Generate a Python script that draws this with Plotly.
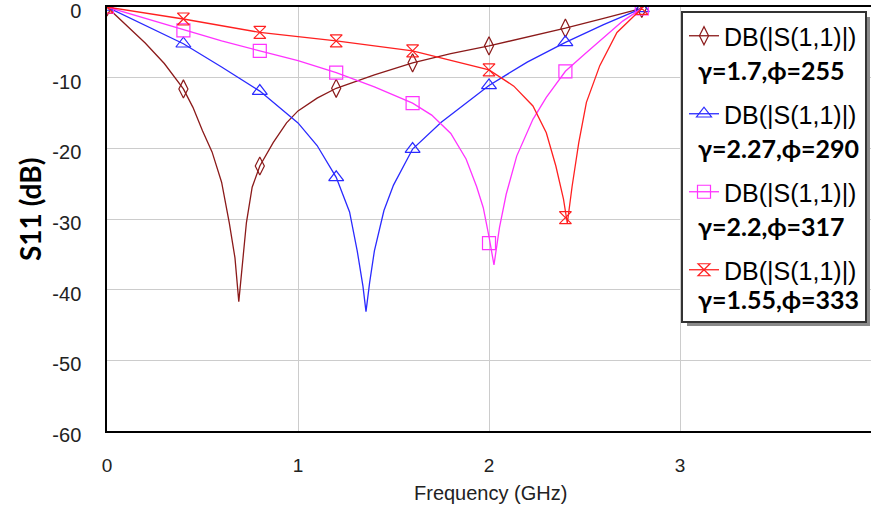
import plotly.graph_objects as go

# ---- data (frequency in GHz, S11 in dB) ----
marker_freq = [0, 0.4, 0.8, 1.2, 1.6, 2.0, 2.4, 2.8]

f_a = [0, 0.1, 0.2, 0.3, 0.4, 0.45, 0.5, 0.55, 0.6, 0.64, 0.67, 0.69, 0.71, 0.73,
       0.76, 0.8, 0.87, 0.94, 1.0, 1.1, 1.2, 1.4, 1.6, 1.8, 2.0, 2.2, 2.4, 2.6, 2.8]
s_a = [0, -2.5, -5.1, -8.0, -11.6, -14.2, -17.5, -20.5, -24.8, -30.5, -35.5, -41.7, -36.0, -30.5,
       -25.5, -22.5, -19.2, -16.4, -14.7, -12.9, -11.5, -9.6, -7.9, -6.6, -5.5, -4.3, -3.0, -1.6, -0.2]
m_a = [0, -11.6, -22.5, -11.5, -7.9, -5.5, -3.0, -0.2]

f_b = [0, 0.2, 0.4, 0.6, 0.8, 1.0, 1.1, 1.2, 1.27, 1.31, 1.34, 1.356, 1.375, 1.4,
       1.45, 1.5, 1.6, 1.75, 1.9, 2.0, 2.2, 2.4, 2.6, 2.8]
s_b = [0, -2.6, -5.2, -8.5, -11.9, -16.4, -19.6, -24.1, -29.0, -34.5, -39.5, -43.1, -39.0, -34.5,
       -28.8, -25.2, -20.1, -16.3, -13.2, -11.1, -7.8, -5.0, -2.5, -0.2]
m_b = [0, -5.2, -11.9, -24.1, -20.1, -11.1, -5.0, -0.2]

f_c = [0, 0.2, 0.4, 0.6, 0.8, 1.0, 1.2, 1.4, 1.6, 1.7, 1.8, 1.88, 1.935, 1.97, 2.0, 2.026,
       2.055, 2.09, 2.145, 2.23, 2.3, 2.4, 2.5, 2.6, 2.7, 2.8]
s_c = [0, -1.6, -3.3, -4.8, -6.2, -7.6, -9.3, -11.3, -13.6, -15.3, -17.9, -21.5, -25.4, -28.4, -32.5, -36.5,
       -31.2, -26.5, -21.1, -15.9, -12.8, -9.1, -6.7, -4.3, -2.0, -0.2]
m_c = [0, -3.3, -6.2, -9.3, -13.6, -33.4, -9.1, -0.2]

f_d = [0, 0.4, 0.8, 1.2, 1.6, 1.8, 2.0, 2.13, 2.23, 2.3, 2.35, 2.39, 2.41, 2.435,
       2.47, 2.51, 2.58, 2.67, 2.8]
s_d = [0, -1.7, -3.6, -4.8, -6.2, -7.5, -8.9, -11.2, -14.0, -17.8, -22.5, -27.2, -30.6, -25.4,
       -19.2, -13.5, -8.3, -3.6, -0.2]
m_d = [0, -1.7, -3.6, -4.8, -6.2, -8.9, -29.8, -0.2]

legend_name = "DB(|S(1,1)|)"
param_labels = ["γ=1.7,ϕ=255", "γ=2.27,ϕ=290", "γ=2.2,ϕ=317", "γ=1.55,ϕ=333"]

x_ticks = [0, 1, 2, 3]
x_tick_text = ["0", "1", "2", "3"]
y_ticks = [0, -10, -20, -30, -40, -50, -60]
y_tick_text = ["0", "-10", "-20", "-30", "-40", "-50", "-60"]

series = [
    (f_a, s_a, m_a, "#8b1a1a", "diamond-tall-open", 13),
    (f_b, s_b, m_b, "#2a2aff", "triangle-up-open", 13),
    (f_c, s_c, m_c, "#ff33ff", "square-open", 13),
    (f_d, s_d, m_d, "#ff2020", "hourglass-open", 12),
]

fig = go.Figure()
for i, (fx, sy, my, col, sym, msz) in enumerate(series):
    fig.add_trace(go.Scatter(x=fx, y=sy, mode="lines", line=dict(color=col, width=1.3),
                             showlegend=False, hoverinfo="skip"))
    fig.add_trace(go.Scatter(x=marker_freq, y=my, mode="markers",
                             marker=dict(symbol=sym, size=msz, color=col, line=dict(width=1.2, color=col)),
                             showlegend=False, hoverinfo="skip"))
    fig.add_trace(go.Scatter(x=[None], y=[None], mode="lines+markers",
                             name=legend_name + "<br>\u00a0", legendgroup=f"g{i}",
                             line=dict(color=col, width=1.3),
                             marker=dict(symbol=sym, size=msz, color=col, line=dict(width=1.2, color=col))))

L, R, T, B = 107, 0, 7, 79
W, H = 871, 510
pw, ph = W - L - R, H - T - B

def px(xp):
    return (xp - L) / pw

def py(yp):
    return (H - B - yp) / ph

annotations = []
for lab, yp in zip(param_labels, [70, 148, 226, 299]):
    annotations.append(dict(text="<b>" + lab + "</b>", x=px(696), y=py(yp), xref="paper", yref="paper",
                            xanchor="left", yanchor="middle", showarrow=False,
                            font=dict(family="Lato", size=25, color="black")))
annotations.append(dict(text="<b>S11 (dB)</b>", x=px(30), y=py(210), xref="paper", yref="paper",
                        textangle=-90, showarrow=False, xanchor="center", yanchor="middle",
                        font=dict(family="Lato", size=28, color="black")))
annotations.append(dict(text="Frequency (GHz)", x=px(490), y=py(493), xref="paper", yref="paper",
                        showarrow=False, xanchor="center", yanchor="middle",
                        font=dict(family="Liberation Sans", size=20, color="#222")))

# legend frame with drop shadow (drawn as shapes beneath the legend entries)
shapes = [
    dict(type="rect", xref="paper", yref="paper", x0=px(687), x1=px(870), y0=py(326), y1=py(17),
         fillcolor="#8a8a8a", line=dict(width=0), layer="above"),
    dict(type="rect", xref="paper", yref="paper", x0=px(682), x1=px(866), y0=py(322), y1=py(12),
         fillcolor="white", line=dict(width=2, color="#333"), layer="above"),
]

fig.update_layout(
    width=W, height=H,
    margin=dict(l=L, r=R, t=T, b=B, autoexpand=False),
    paper_bgcolor="white", plot_bgcolor="white",
    font=dict(family="Liberation Sans", size=19, color="#222"),
    showlegend=True,
    legend=dict(x=px(684), y=py(13), xanchor="left", yanchor="top",
                bgcolor="rgba(0,0,0,0)", borderwidth=0,
                font=dict(family="Liberation Sans", size=25, color="black"),
                valign="top", tracegroupgap=10, itemsizing="trace"),
    annotations=annotations,
    shapes=shapes,
    xaxis=dict(range=[0, 4], tickvals=x_ticks, ticktext=x_tick_text, showgrid=True,
               gridcolor="#cccccc", gridwidth=1, automargin=False, ticklabeloverflow="allow",
               showline=True, linecolor="black", linewidth=1.5, mirror=True, zeroline=False,
               ticks="", ticklabelstandoff=16, tickfont=dict(size=19)),
    yaxis=dict(range=[-60, 0], tickvals=y_ticks, ticktext=y_tick_text, showgrid=True,
               gridcolor="#cccccc", gridwidth=1, automargin=False, ticklabeloverflow="allow",
               showline=True, linecolor="black", linewidth=1.5, zeroline=False,
               ticks="", ticklabelstandoff=20, ticklabelshift=4, tickfont=dict(size=20)),
)

fig.write_html("out.html", config={"displayModeBar": False},
               post_script="document.body.style.margin='0';")
